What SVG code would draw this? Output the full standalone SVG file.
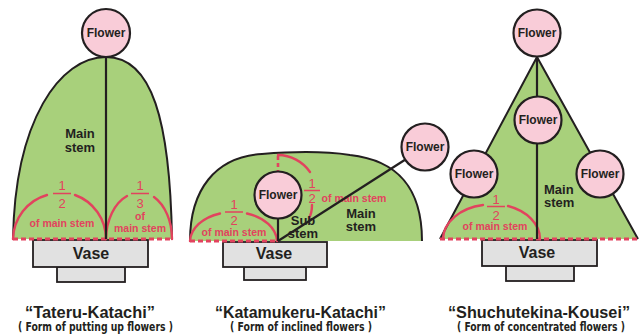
<svg xmlns="http://www.w3.org/2000/svg" width="639" height="336" viewBox="0 0 639 336">
  <style>
    .leaf { fill: #a8d07b; stroke: none; }
    .edge { fill: none; stroke: #231f20; stroke-width: 2; stroke-linejoin: round; }
    .stem { stroke: #231f20; stroke-width: 2.2; fill: none; }
    .flower circle { fill: #f9ccd8; stroke: #231f20; stroke-width: 2.2; }
    .flower text { font-family: "Liberation Sans", Arial, sans-serif; font-weight: bold; font-size: 12px; fill: #231f20; text-anchor: middle; }
    .vase rect { fill: #e1e1e1; stroke: #231f20; stroke-width: 1.8; }
    .vase text { font-family: "Liberation Sans", Arial, sans-serif; font-weight: bold; font-size: 16px; fill: #231f20; text-anchor: middle; }
    .arc { fill: none; stroke: #e2435e; stroke-width: 2.4; stroke-linecap: round; }
    .dash { fill: none; stroke: #e2435e; stroke-width: 3; stroke-dasharray: 5 3; }
    .bar { stroke: #e2435e; stroke-width: 1.5; }
    .num { font-family: "Liberation Sans", Arial, sans-serif; font-size: 13px; fill: #e2435e; text-anchor: middle; }
    .red { font-family: "Liberation Sans", Arial, sans-serif; font-weight: bold; font-size: 10.5px; fill: #e2435e; text-anchor: middle; }
    .lbl { font-family: "Liberation Sans", Arial, sans-serif; font-weight: bold; font-size: 13px; fill: #231f20; text-anchor: middle; }
    .title { font-family: "Liberation Sans", Arial, sans-serif; font-weight: bold; font-size: 16px; fill: #231f20; text-anchor: middle; }
    .sub { font-family: "Liberation Sans Narrow", "DejaVu Sans Condensed", "Liberation Sans", sans-serif; font-stretch: condensed; font-weight: bold; font-size: 13px; fill: #231f20; text-anchor: middle; }
  </style>

  <!-- ===== Tateru-Katachi ===== -->
  <g id="tateru-shape">
    <path class="leaf" d="M13,239 C15,120 60,57 106,57 C152,57 170,120 172,239 Z"/>
    <path class="edge" d="M13,239 C15,120 60,57 106,57 C152,57 170,120 172,239"/>
  </g>
  <g id="tateru-vase" class="vase">
    <rect x="57" y="267" width="68" height="15"/>
    <rect x="33" y="240" width="115" height="27"/>
    <text x="91" y="259">Vase</text>
  </g>
  <g id="tateru-ratios">
    <path class="arc" d="M13,239 A46.5,47 0 0 1 47,195"/>
    <path class="arc" d="M75,195 A46.5,47 0 0 1 106,239"/>
    <text class="num" x="62" y="190">1</text>
    <line class="bar" x1="53" y1="193.5" x2="71" y2="193.5"/>
    <text class="num" x="62" y="207.5">2</text>
    <text class="red" x="62" y="227">of main stem</text>
    <path class="arc" d="M106,239 A33,47 0 0 1 127,196"/>
    <path class="arc" d="M154,197 A33,47 0 0 1 172,239"/>
    <text class="num" x="140" y="190">1</text>
    <line class="bar" x1="131" y1="193.5" x2="149" y2="193.5"/>
    <text class="num" x="140" y="207.5">3</text>
    <text class="red" x="140" y="220">of</text>
    <text class="red" x="140" y="232">main stem</text>
    <line class="dash" x1="13" y1="239" x2="172" y2="239"/>
  </g>
  <g id="tateru-stem">
    <line class="stem" x1="106" y1="57" x2="106" y2="239"/>
    <text class="lbl" x="80" y="138">Main</text>
    <text class="lbl" x="80" y="152">stem</text>
  </g>
  <g id="tateru-flower" class="flower">
    <circle cx="106" cy="33" r="24"/>
    <text x="106" y="37">Flower</text>
  </g>
  <g id="tateru-title">
    <text class="title" x="90" y="318" textLength="130" lengthAdjust="spacingAndGlyphs">“Tateru-Katachi”</text>
    <text class="sub" x="95.5" y="331" textLength="155" lengthAdjust="spacingAndGlyphs">( Form of putting up flowers )</text>
  </g>

  <!-- ===== Katamukeru-Katachi ===== -->
  <g id="katamukeru-shape">
    <path class="leaf" d="M190,241 C190,190 215,157 262,154 C300,151 330,152 350,155 C395,160 422,185 422,241 Z"/>
    <path class="edge" d="M190,241 C190,190 215,157 262,154 C300,151 330,152 350,155 C395,160 422,185 422,241"/>
  </g>
  <g id="katamukeru-vase" class="vase">
    <rect x="244" y="267" width="62" height="13"/>
    <rect x="223" y="242" width="104" height="25"/>
    <text x="274" y="259">Vase</text>
  </g>
  <g id="katamukeru-ratios">
    <path class="arc" d="M190,241 A43.5,30 0 0 1 220,213.5"/>
    <path class="arc" d="M247,213.5 A43.5,30 0 0 1 277,241"/>
    <text class="num" x="234" y="209">1</text>
    <line class="bar" x1="225" y1="212" x2="243" y2="212"/>
    <text class="num" x="234" y="224.5">2</text>
    <text class="red" x="234" y="235.5">of main stem</text>
    <line class="dash" x1="190" y1="241" x2="277" y2="241"/>
    <line class="dash" x1="278" y1="156" x2="278" y2="171" style="stroke-dasharray:4 3;stroke-width:2.6"/>
    <path class="arc" d="M278,155 A40,40 0 0 1 310,172"/>
    <path class="arc" d="M312,205 Q312,213 309,218"/>
    <text class="num" x="312" y="188">1</text>
    <line class="bar" x1="304" y1="190.5" x2="320" y2="190.5"/>
    <text class="num" x="312" y="203">2</text>
    <text class="red" x="354" y="202">of main stem</text>
  </g>
  <g id="katamukeru-stems">
    <line class="stem" x1="278" y1="219" x2="278" y2="241"/>
    <line class="stem" x1="278" y1="241" x2="425" y2="147"/>
    <text class="lbl" x="303" y="225">Sub</text>
    <text class="lbl" x="303" y="237.5">stem</text>
    <text class="lbl" x="361" y="218">Main</text>
    <text class="lbl" x="361" y="230.5">stem</text>
  </g>
  <g id="katamukeru-sub-flower" class="flower">
    <circle cx="278" cy="195" r="23.5"/>
    <text x="278" y="199">Flower</text>
  </g>
  <g id="katamukeru-main-flower" class="flower">
    <circle cx="425" cy="147" r="23.5"/>
    <text x="425" y="151">Flower</text>
  </g>
  <g id="katamukeru-title">
    <text class="title" x="300.5" y="318" textLength="171" lengthAdjust="spacingAndGlyphs">“Katamukeru-Katachi”</text>
    <text class="sub" x="301" y="331" textLength="142" lengthAdjust="spacingAndGlyphs">( Form of inclined flowers )</text>
  </g>

  <!-- ===== Shuchutekina-Kousei ===== -->
  <g id="shuchutekina-shape">
    <path class="leaf" d="M440,239 L537,57 L638,239 Z"/>
    <path class="edge" d="M440,239 L537,57 L638,239"/>
  </g>
  <g id="shuchutekina-vase" class="vase">
    <rect x="506" y="266" width="68" height="15"/>
    <rect x="482" y="240" width="115" height="26"/>
    <text x="537" y="258">Vase</text>
  </g>
  <g id="shuchutekina-ratios">
    <path class="arc" d="M443,239 A48.5,35 0 0 1 483,205"/>
    <path class="arc" d="M508,206 A48.5,35 0 0 1 540,239"/>
    <text class="num" x="496" y="203.5">1</text>
    <line class="bar" x1="487" y1="206.5" x2="505" y2="206.5"/>
    <text class="num" x="496" y="219.5">2</text>
    <text class="red" x="495" y="229.5">of main stem</text>
    <line class="dash" x1="440" y1="239" x2="638" y2="239"/>
  </g>
  <g id="shuchutekina-stem">
    <line class="stem" x1="537" y1="57" x2="537" y2="239"/>
    <text class="lbl" x="544" y="194" style="text-anchor:start">Main</text>
    <text class="lbl" x="544" y="206.5" style="text-anchor:start">stem</text>
  </g>
  <g id="shuchutekina-top-flower" class="flower">
    <circle cx="537" cy="33" r="23.5"/>
    <text x="537" y="37">Flower</text>
  </g>
  <g id="shuchutekina-mid-flower" class="flower">
    <circle cx="538" cy="120" r="23.5"/>
    <text x="538" y="124">Flower</text>
  </g>
  <g id="shuchutekina-left-flower" class="flower">
    <circle cx="474" cy="174" r="23.5"/>
    <text x="474" y="178">Flower</text>
  </g>
  <g id="shuchutekina-right-flower" class="flower">
    <circle cx="600" cy="174" r="23.5"/>
    <text x="600" y="178">Flower</text>
  </g>
  <g id="shuchutekina-title">
    <text class="title" x="539" y="318" textLength="182" lengthAdjust="spacingAndGlyphs">“Shuchutekina-Kousei”</text>
    <text class="sub" x="541" y="331" textLength="168" lengthAdjust="spacingAndGlyphs">( Form of concentrated flowers )</text>
  </g>
</svg>
